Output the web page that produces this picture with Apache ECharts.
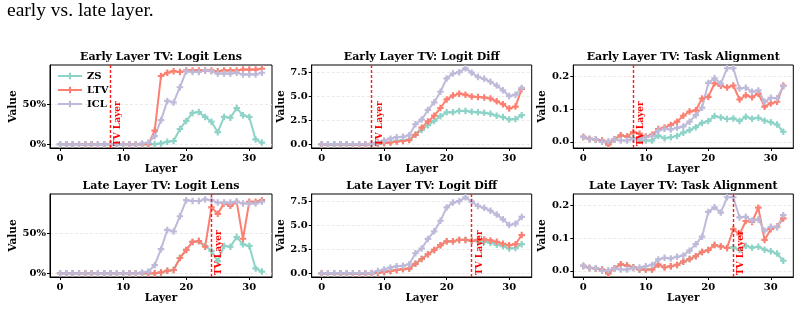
<!DOCTYPE html>
<html>
<head>
<meta charset="utf-8">
<script src="https://cdn.jsdelivr.net/npm/echarts@6/dist/echarts.min.js"></script>
<style>
  html, body { margin: 0; padding: 0; background: #fff; }
  #chart { width: 801px; height: 311px; }
</style>
</head>
<body>
<div id="chart"></div>
<script>
  // x: layer index
  const layers = [0, 1, 2, 3, 4, 5, 6, 7, 8, 9, 10, 11, 12, 13, 14, 15, 16, 17, 18, 19, 20, 21, 22, 23, 24, 25, 26, 27, 28, 29, 30, 31, 32]
  const xTicks = [0, 10, 20, 30]

  // Logit Lens (fraction)
  const zsLens = [0, 0, 0, 0, 0, 0, 0, 0, 0, 0, 0, 0, 0, 0, 0, 0, 0.01, 0.03, 0.04, 0.19, 0.29, 0.39, 0.40, 0.34, 0.28, 0.15, 0.34, 0.33, 0.45, 0.36, 0.34, 0.06, 0.02]
  const ltvLensEarly = [0, 0, 0, 0, 0, 0, 0, 0, 0, 0, 0, 0, 0, 0, 0, 0.17, 0.85, 0.89, 0.91, 0.90, 0.92, 0.92, 0.92, 0.92, 0.92, 0.91, 0.92, 0.92, 0.92, 0.93, 0.93, 0.93, 0.94]
  const ltvLensLate = [0, 0, 0, 0, 0, 0, 0, 0, 0, 0, 0, 0, 0, 0, 0, 0, 0.01, 0.03, 0.04, 0.19, 0.29, 0.39, 0.40, 0.33, 0.82, 0.74, 0.87, 0.84, 0.89, 0.43, 0.89, 0.89, 0.91]
  const iclLens = [0, 0, 0, 0, 0, 0, 0, 0, 0, 0, 0, 0, 0, 0.01, 0.02, 0.10, 0.30, 0.54, 0.52, 0.71, 0.91, 0.90, 0.90, 0.92, 0.91, 0.88, 0.88, 0.88, 0.89, 0.87, 0.87, 0.87, 0.89]
  const lensTicks = [0, 0.5]

  // Logit Diff
  const zsDiff = [0, 0, 0, 0, 0, -0.02, -0.03, -0.02, 0, 0.05, 0.15, 0.25, 0.35, 0.45, 0.5, 1.0, 1.5, 2.0, 2.45, 2.95, 3.35, 3.35, 3.5, 3.5, 3.4, 3.35, 3.3, 3.2, 3.0, 2.85, 2.6, 2.65, 3.05]
  const ltvDiffEarly = [0, 0, 0, 0, 0, -0.02, -0.03, -0.02, 0.05, 0.1, 0.15, 0.2, 0.3, 0.35, 0.45, 1.0, 1.75, 2.4, 3.0, 3.8, 4.7, 5.1, 5.3, 5.2, 5.0, 4.95, 4.9, 4.8, 4.5, 4.2, 3.75, 3.95, 5.8]
  const ltvDiffLate = [0, 0, 0, 0, 0, -0.02, -0.03, -0.02, 0, 0.05, 0.15, 0.25, 0.35, 0.45, 0.5, 1.0, 1.5, 2.0, 2.45, 2.95, 3.35, 3.35, 3.5, 3.5, 3.4, 3.5, 3.55, 3.45, 3.3, 3.1, 2.95, 3.05, 4.0]
  const iclDiff = [0.02, 0.02, 0.02, 0.02, 0.02, 0.02, 0.02, 0.02, 0.05, 0.25, 0.4, 0.6, 0.75, 0.8, 0.95, 2.1, 2.6, 3.6, 4.4, 5.5, 6.9, 7.4, 7.55, 7.95, 7.5, 7.05, 6.85, 6.55, 6.15, 5.65, 5.05, 5.2, 5.9]
  const diffTicks = [0, 2.5, 5, 7.5]

  // Task Alignment
  const zsTask = [0.015, 0.009, 0.007, 0.004, -0.008, 0.008, 0.02, 0.016, 0.011, 0.004, 0.004, 0.004, 0.019, 0.011, 0.014, 0.018, 0.028, 0.036, 0.045, 0.058, 0.064, 0.079, 0.075, 0.07, 0.072, 0.064, 0.077, 0.071, 0.074, 0.065, 0.06, 0.053, 0.031]
  const ltvTaskEarly = [0.015, 0.009, 0.007, 0.004, -0.008, 0.008, 0.02, 0.016, 0.03, 0.025, 0.016, 0.022, 0.039, 0.044, 0.052, 0.062, 0.08, 0.093, 0.097, 0.133, 0.138, 0.18, 0.172, 0.167, 0.173, 0.13, 0.143, 0.137, 0.148, 0.108, 0.118, 0.123, 0.173]
  const ltvTaskLate = [0.015, 0.009, 0.007, 0.004, -0.008, 0.008, 0.02, 0.016, 0.011, 0.004, 0.004, 0.004, 0.019, 0.011, 0.014, 0.018, 0.028, 0.036, 0.045, 0.058, 0.064, 0.079, 0.075, 0.07, 0.128, 0.112, 0.153, 0.15, 0.194, 0.095, 0.128, 0.136, 0.161]
  const iclTask = [0.015, 0.009, 0.008, 0, 0.002, 0.007, 0.004, 0.004, 0.008, 0.01, 0.014, 0.018, 0.035, 0.04, 0.038, 0.043, 0.047, 0.062, 0.082, 0.105, 0.181, 0.195, 0.179, 0.226, 0.226, 0.164, 0.166, 0.154, 0.158, 0.123, 0.135, 0.134, 0.171]
  const taskTicks = [0, 0.1, 0.2]

  const tvLayerEarly = 8
  const tvLayerLate = 24

  const colors = { ZS: '#8dd3c7', LTV: '#fb8072', ICL: '#bebada' }
  const serif = '"DejaVu Serif", serif'
  // filled plus marker
  const plusPath = 'path://M3,0h3v3h3v3h-3v3h-3v-3h-3v-3h3z'

  const panels = [
    { title: 'Early Layer TV: Logit Lens', zs: zsLens, ltv: ltvLensEarly, icl: iclLens, tv: tvLayerEarly, ticks: lensTicks, min: -0.047, max: 0.987, fmt: v => Math.round(v * 100) + '%', nameGap: 29 },
    { title: 'Early Layer TV: Logit Diff', zs: zsDiff, ltv: ltvDiffEarly, icl: iclDiff, tv: tvLayerEarly, ticks: diffTicks, min: -0.38, max: 8.3, fmt: v => v.toFixed(1), nameGap: 23 },
    { title: 'Early Layer TV: Task Alignment', zs: zsTask, ltv: ltvTaskEarly, icl: iclTask, tv: tvLayerEarly, ticks: taskTicks, min: -0.019, max: 0.236, fmt: v => v.toFixed(1), nameGap: 23 },
    { title: 'Late Layer TV: Logit Lens', zs: zsLens, ltv: ltvLensLate, icl: iclLens, tv: tvLayerLate, ticks: lensTicks, min: -0.047, max: 0.987, fmt: v => Math.round(v * 100) + '%', nameGap: 29 },
    { title: 'Late Layer TV: Logit Diff', zs: zsDiff, ltv: ltvDiffLate, icl: iclDiff, tv: tvLayerLate, ticks: diffTicks, min: -0.38, max: 8.3, fmt: v => v.toFixed(1), nameGap: 23 },
    { title: 'Late Layer TV: Task Alignment', zs: zsTask, ltv: ltvTaskLate, icl: iclTask, tv: tvLayerLate, ticks: taskTicks, min: -0.019, max: 0.236, fmt: v => v.toFixed(1), nameGap: 23 }
  ]

  const colLeft = [50, 311.7, 573.3]
  const colWidth = [222, 220, 220]
  const rowTop = [65, 194]
  const rowHeight = 83

  const grid = [], xAxis = [], yAxis = [], series = [], graphic = []

  panels.forEach((p, i) => {
    const r = Math.floor(i / 3), c = i % 3
    grid.push({
      left: colLeft[c], top: rowTop[r], width: colWidth[c], height: rowHeight,
      show: true, borderColor: '#000', borderWidth: 1, backgroundColor: 'transparent'
    })
    xAxis.push({
      type: 'value', gridIndex: i, min: -1.6, max: 33.6,
      name: 'Layer', nameLocation: 'middle', nameGap: 16,
      nameTextStyle: { fontFamily: serif, fontWeight: 'bold', fontSize: 10.5, color: '#000', verticalAlign: 'top' },
      axisLine: { show: true, onZero: false, lineStyle: { color: '#000', width: 1 } },
      axisTick: { show: true, length: 3, customValues: xTicks, lineStyle: { color: '#000' } },
      axisLabel: { customValues: xTicks, margin: 5, fontFamily: serif, fontWeight: 'bold', fontSize: 10, color: '#000' },
      splitLine: { show: false }
    })
    yAxis.push({
      type: 'value', gridIndex: i, min: p.min, max: p.max,
      name: 'Value', nameLocation: 'middle', nameGap: p.nameGap, nameRotate: 90,
      nameTextStyle: { fontFamily: serif, fontWeight: 'bold', fontSize: 10.5, color: '#000' },
      axisLine: { show: true, onZero: false, lineStyle: { color: '#000', width: 1 } },
      axisTick: { show: true, length: 3, customValues: p.ticks, lineStyle: { color: '#000' } },
      axisLabel: { customValues: p.ticks, margin: 4, formatter: p.fmt, fontFamily: serif, fontWeight: 'bold', fontSize: 10, color: '#000' },
      splitLine: { show: true, lineStyle: { color: '#e4e4e4', type: [3, 2], width: 0.8 } }
    })
    const mk = (name, vals) => ({
      name, type: 'line', xAxisIndex: i, yAxisIndex: i,
      data: layers.map((l, k) => [l, vals[k]]),
      symbol: plusPath, symbolSize: 6.5, showSymbol: true,
      lineStyle: { color: colors[name], width: 2 },
      itemStyle: { color: colors[name] },
      animation: false, silent: true
    })
    series.push(mk('ZS', p.zs), mk('LTV', p.ltv))
    const icl = mk('ICL', p.icl)
    icl.markLine = {
      silent: true, symbol: 'none', animation: false,
      lineStyle: { color: '#ff1a1a', type: [3, 2], width: 1.4 },
      label: {
        show: true, formatter: 'TV Layer', position: 'insideStartBottom', distance: [2, 3],
        color: '#ff0000', fontFamily: serif, fontWeight: 'bold', fontSize: 9
      },
      data: [{ xAxis: p.tv }]
    }
    series.push(icl)
    graphic.push({
      type: 'text', x: colLeft[c] + colWidth[c] / 2, y: rowTop[r] - 8,
      style: { text: p.title, align: 'center', verticalAlign: 'middle', fill: '#000', font: 'bold 11px ' + serif }
    })
  })

  const chart = echarts.init(document.getElementById('chart'), null, { renderer: 'canvas' })
  chart.setOption({
    animation: false,
    title: {
      text: 'early vs. late layer.', left: 7, top: 1, padding: 0,
      textStyle: { fontFamily: '"Liberation Serif", serif', fontWeight: 'normal', fontSize: 19.5, color: '#000' }
    },
    legend: {
      data: ['ZS', 'LTV', 'ICL'], orient: 'vertical', left: 57, top: 71, padding: 0,
      itemWidth: 24, itemHeight: 8, itemGap: 4,
      textStyle: { fontFamily: serif, fontWeight: 'bold', fontSize: 10, color: '#000' }
    },
    grid, xAxis, yAxis, series, graphic
  })
</script>
</body>
</html>
